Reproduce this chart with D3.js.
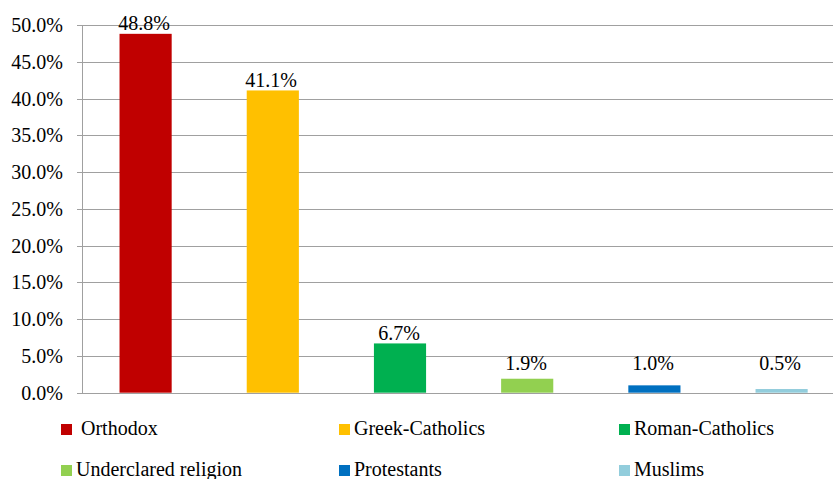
<!DOCTYPE html>
<html>
<head>
<meta charset="utf-8">
<script src="https://cdn.jsdelivr.net/npm/d3@7"></script>
<style>
  html, body { margin: 0; padding: 0; background: #fff; }
  svg { display: block; }
</style>
</head>
<body>
<svg id="chart" width="833" height="479"></svg>
<script>
const categories = ["Orthodox", "Greek-Catholics", "Roman-Catholics", "Underclared religion", "Protestants", "Muslims"];
const values = [0.488, 0.411, 0.067, 0.019, 0.010, 0.005];
const valueLabels = ["48.8%", "41.1%", "6.7%", "1.9%", "1.0%", "0.5%"];
const colors = ["#C00000", "#FFC000", "#00B050", "#92D050", "#0070C0", "#92CDDC"];
const legendLabels = ["\u00A0Orthodox", "Greek-Catholics", "Roman-Catholics", "Underclared religion", "Protestants", "Muslims"];
const yTicks = [0, 0.05, 0.10, 0.15, 0.20, 0.25, 0.30, 0.35, 0.40, 0.45, 0.50];

const FONT = "\"Liberation Serif\"";
const svg = d3.select("#chart");
const left = 82, step = 127.2;
const x = d3.scaleBand().domain(categories).range([left, left + step * categories.length]).padding(0);
const y = d3.scaleLinear().domain([0, 0.5]).range([392.7, 25]);
const fmt = d3.format(".1%");

// gridlines
svg.append("g").selectAll("line").data(yTicks).join("line")
  .attr("x1", left - 5).attr("x2", left + step * 6)
  .attr("y1", d => Math.round(y(d)) + 0.5).attr("y2", d => Math.round(y(d)) + 0.5)
  .attr("stroke", "#a0a0a0").attr("stroke-width", 1);

// y axis line
svg.append("line")
  .attr("x1", left + 0.5).attr("x2", left + 0.5)
  .attr("y1", Math.round(y(0.5)) + 0.5).attr("y2", Math.round(y(0)) + 0.5)
  .attr("stroke", "#a0a0a0").attr("stroke-width", 1);

// y tick labels
svg.append("g").selectAll("text").data(yTicks).join("text")
  .attr("x", 63).attr("y", d => Math.round(y(d)) + 7)
  .attr("text-anchor", "end")
  .style("font-family", FONT).attr("font-size", 20)
  .text(d => fmt(d));

// bars
const bw = x.bandwidth() * 0.41;
svg.append("g").selectAll("rect").data(categories).join("rect")
  .attr("x", (d) => x(d) + x.bandwidth() / 2 - bw / 2)
  .attr("width", bw)
  .attr("y", (d, i) => y(values[i]))
  .attr("height", (d, i) => y(0) - y(values[i]))
  .attr("fill", (d, i) => colors[i]);

// value labels
svg.append("g").selectAll("text").data(categories).join("text")
  .attr("x", (d) => Math.round(x(d) + x.bandwidth() / 2 - 1.5))
  .attr("y", (d, i) => Math.round(Math.min(y(values[i]) - 3.5, 369.5)))
  .attr("text-anchor", "middle")
  .style("font-family", FONT).attr("font-size", 20)
  .text((d, i) => valueLabels[i]);

// legend
const colX = [61, 339, 619];
const rowY = [435, 476];
const lg = svg.append("g").selectAll("g").data(legendLabels).join("g")
  .attr("transform", (d, i) => `translate(${colX[i % 3]},${rowY[Math.floor(i / 3)]})`);
lg.append("rect").attr("x", 0).attr("y", -11).attr("width", 11).attr("height", 11)
  .attr("fill", (d, i) => colors[i]);
lg.append("text")
  .attr("x", 15).attr("y", 0)
  .style("font-family", FONT).attr("font-size", 20)
  .text(d => d);
</script>
</body>
</html>
